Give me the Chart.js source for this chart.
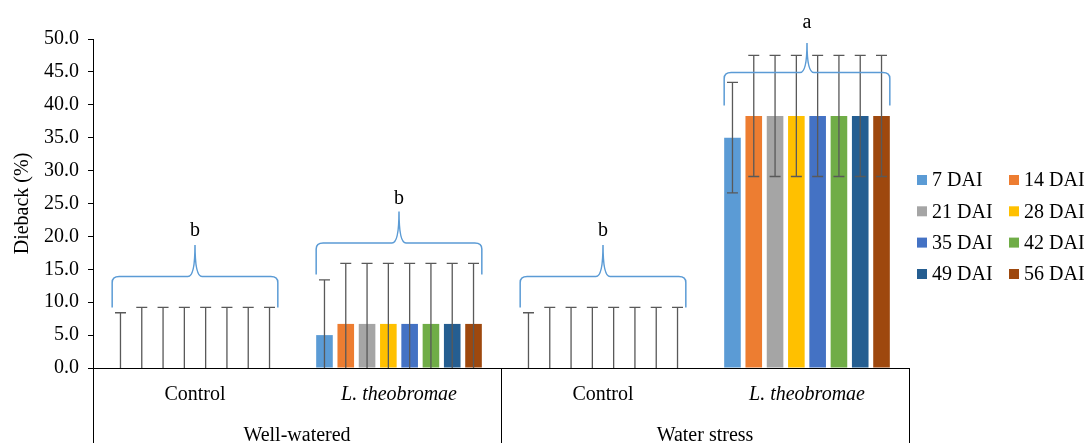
<!DOCTYPE html>
<html><head><meta charset="utf-8">
<script src="https://cdn.jsdelivr.net/npm/chart.js@4.4.1/dist/chart.umd.min.js"></script>
<style>html,body{margin:0;padding:0;background:#fff;overflow:hidden}#wrap{width:1089px;height:443px;position:relative}</style>
</head><body><div id="wrap"><canvas id="c" width="1089" height="443"></canvas></div>
<script>
// ---- data ----
const categories = ['Control', 'L. theobromae', 'Control', 'L. theobromae'];
const categoryItalic = [false, true, false, true];
const groupLabels = ['Well-watered', 'Water stress'];
const seriesNames = ['7 DAI', '14 DAI', '21 DAI', '28 DAI', '35 DAI', '42 DAI', '49 DAI', '56 DAI'];
const seriesColors = ['#5B9BD5', '#ED7D31', '#A5A5A5', '#FFC000', '#4472C4', '#70AD47', '#255E91', '#9E480E'];
const dai7  = [0, 5.0, 0, 35.0];
const dai14 = [0, 6.7, 0, 38.3];
const dai21 = [0, 6.7, 0, 38.3];
const dai28 = [0, 6.7, 0, 38.3];
const dai35 = [0, 6.7, 0, 38.3];
const dai42 = [0, 6.7, 0, 38.3];
const dai49 = [0, 6.7, 0, 38.3];
const dai56 = [0, 6.7, 0, 38.3];
const err7  = [8.4, 8.4, 8.4, 8.4];
const err14 = [9.2, 9.2, 9.2, 9.2];
const err21 = [9.2, 9.2, 9.2, 9.2];
const err28 = [9.2, 9.2, 9.2, 9.2];
const err35 = [9.2, 9.2, 9.2, 9.2];
const err42 = [9.2, 9.2, 9.2, 9.2];
const err49 = [9.2, 9.2, 9.2, 9.2];
const err56 = [9.2, 9.2, 9.2, 9.2];
const signifLetters = ['b', 'b', 'b', 'a'];
const braceEnd  = [9.2, 14.2, 9.2, 39.9];
const braceLine = [13.9, 19.0, 13.9, 44.9];
const braceTip  = [18.7, 23.8, 18.7, 49.4];
const letterLevel = [20.1, 24.9, 20.1, 51.6];
const yTicksMin = 0, yTicksMax = 50, yTickStep = 5;

const seriesValues = [dai7, dai14, dai21, dai28, dai35, dai42, dai49, dai56];
const seriesErrors = [err7, err14, err21, err28, err35, err42, err49, err56];

const FONT = "'Liberation Serif', 'Times New Roman', serif";
Chart.defaults.font.family = FONT;
Chart.defaults.font.size = 20;
Chart.defaults.color = '#000';

const overlay = {
  id: 'overlay',
  afterDatasetsDraw(chart) {
    const ctx = chart.ctx, ca = chart.chartArea;
    const y = chart.scales.y, x = chart.scales.x;
    // error bars
    ctx.save();
    ctx.beginPath(); ctx.rect(ca.left, ca.top - 1, ca.right - ca.left, ca.bottom - ca.top + 1); ctx.clip();
    ctx.strokeStyle = '#595959'; ctx.lineWidth = 1.3;
    seriesValues.forEach((vals, di) => {
      const meta = chart.getDatasetMeta(di);
      vals.forEach((v, i) => {
        const bx = meta.data[i].x;
        const e = seriesErrors[di][i];
        const yt = y.getPixelForValue(v + e), yb = y.getPixelForValue(v - e);
        ctx.beginPath();
        ctx.moveTo(bx, yt); ctx.lineTo(bx, yb);
        ctx.moveTo(bx - 5.5, yt); ctx.lineTo(bx + 5.5, yt);
        ctx.moveTo(bx - 5.5, yb); ctx.lineTo(bx + 5.5, yb);
        ctx.stroke();
      });
    });
    ctx.restore();
    // braces + letters
    ctx.save();
    ctx.strokeStyle = '#5B9BD5'; ctx.lineWidth = 1.5;
    const m0 = chart.getDatasetMeta(0), mN = chart.getDatasetMeta(seriesValues.length - 1);
    categories.forEach((c, i) => {
      const x0 = m0.data[i].x - m0.data[i].width / 2;
      const x1 = mN.data[i].x + mN.data[i].width / 2;
      const xc = (x0 + x1) / 2;
      const ye = y.getPixelForValue(braceEnd[i]);
      const yl = y.getPixelForValue(braceLine[i]);
      const yt = y.getPixelForValue(braceTip[i]);
      ctx.beginPath();
      ctx.moveTo(x0, ye);
      ctx.lineTo(x0, yl + 6);
      ctx.quadraticCurveTo(x0, yl, x0 + 7, yl);
      ctx.lineTo(xc - 7, yl);
      ctx.quadraticCurveTo(xc, yl, xc, yt);
      ctx.quadraticCurveTo(xc, yl, xc + 7, yl);
      ctx.lineTo(x1 - 7, yl);
      ctx.quadraticCurveTo(x1, yl, x1, yl + 6);
      ctx.lineTo(x1, ye);
      ctx.stroke();
      ctx.fillStyle = '#000';
      ctx.font = '20px ' + FONT;
      ctx.textAlign = 'center'; ctx.textBaseline = 'alphabetic';
      ctx.fillText(signifLetters[i], xc, y.getPixelForValue(letterLevel[i]));
    });
    ctx.restore();
    // bottom category / group labels and separators
    ctx.save();
    ctx.strokeStyle = '#000'; ctx.lineWidth = 1;
    const H = chart.height;
    const sep = [ca.left, (ca.left + ca.right) / 2, ca.right];
    sep.forEach(sx => {
      const px = Math.round(sx) + 0.5;
      ctx.beginPath(); ctx.moveTo(px, ca.bottom); ctx.lineTo(px, H); ctx.stroke();
    });
    ctx.fillStyle = '#000';
    ctx.textAlign = 'center'; ctx.textBaseline = 'middle';
    categories.forEach((c, i) => {
      ctx.font = (categoryItalic[i] ? 'italic ' : '') + '20px ' + FONT;
      ctx.fillText(c, x.getPixelForValue(i), ca.bottom + 27);
    });
    ctx.font = '20px ' + FONT;
    groupLabels.forEach((g, gi) => {
      ctx.fillText(g, (sep[gi] + sep[gi + 1]) / 2, ca.bottom + 68);
    });
    ctx.restore();
    // legend
    ctx.save();
    ctx.font = '20px ' + FONT; ctx.textAlign = 'left'; ctx.textBaseline = 'middle';
    const colBox = [917, 1009], colText = [932, 1024], rowY = [180, 211.3, 242.6, 274];
    seriesNames.forEach((n, k) => {
      const col = k % 2, row = Math.floor(k / 2);
      ctx.fillStyle = seriesColors[k];
      ctx.fillRect(colBox[col], rowY[row] - 5, 10, 10);
      ctx.fillStyle = '#000';
      ctx.fillText(n, colText[col], rowY[row] + 1);
    });
    ctx.restore();
  }
};

new Chart(document.getElementById('c'), {
  type: 'bar',
  data: {
    labels: categories,
    datasets: seriesNames.map((n, k) => ({
      label: n,
      data: seriesValues[k],
      backgroundColor: seriesColors[k],
      borderWidth: 0,
      categoryPercentage: 0.835,
      barPercentage: 0.78
    }))
  },
  options: {
    responsive: false,
    animation: false,
    layout: { padding: { left: 0, right: 180, top: 39, bottom: 0 } },
    plugins: { legend: { display: false }, tooltip: { enabled: false } },
    scales: {
      x: {
        grid: { display: false },
        ticks: { display: false },
        border: { display: true, color: '#000', width: 1 },
        afterFit(s) { s.height = 75; }
      },
      y: {
        min: yTicksMin, max: yTicksMax,
        ticks: { stepSize: yTickStep, padding: 9, color: '#000', font: { size: 20, family: FONT },
          callback: v => Number(v).toFixed(1) },
        grid: { drawOnChartArea: false, drawTicks: true, tickLength: 5, color: '#000' },
        border: { display: true, color: '#000', width: 1 },
        title: { display: true, text: 'Dieback (%)', color: '#000', font: { size: 20, family: FONT }, padding: { top: 11, bottom: 0 } },
        afterFit(s) { s.width = 93; }
      }
    }
  },
  plugins: [overlay]
});
</script>
</body></html>
